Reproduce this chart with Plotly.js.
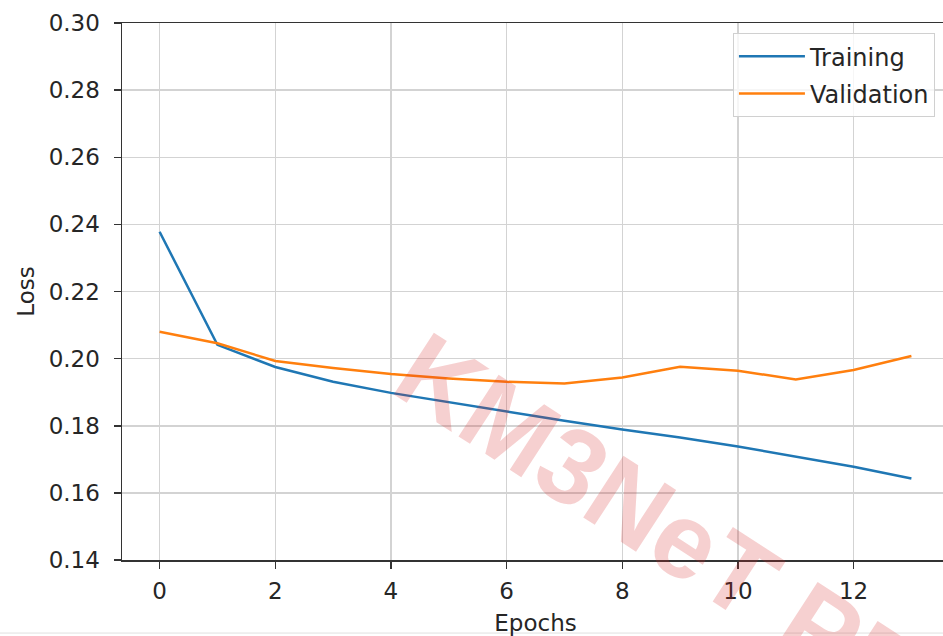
<!DOCTYPE html>
<html>
<head>
<meta charset="utf-8">
<script src="https://cdn.plot.ly/plotly-3.0.1.min.js"></script>
<style>
html,body{margin:0;padding:0;overflow:hidden;background:#fff;}
#chart{width:956px;height:636px;}
</style>
</head>
<body>
<div id="chart"></div>
<script>
const epochs = [0,1,2,3,4,5,6,7,8,9,10,11,12,13];
const trainingLoss = [0.2378,0.2041,0.1975,0.1931,0.1898,0.1870,0.1842,0.1815,0.1789,0.1765,0.1738,0.1708,0.1678,0.1643];
const validationLoss = [0.2080,0.2046,0.1993,0.1972,0.1954,0.1941,0.1931,0.1926,0.1944,0.1976,0.1964,0.1938,0.1966,0.2008];
const yTicks = [0.14,0.16,0.18,0.20,0.22,0.24,0.26,0.28,0.30];
const xTicks = [0,2,4,6,8,10,12];

const font = {family:'"DejaVu Sans", sans-serif', size:23, color:'#262626'};
const legendFont = {family:'"DejaVu Sans", sans-serif', size:24, color:'#262626'};

const traces = [
  {x:epochs, y:trainingLoss, name:'Training', mode:'lines', legendgroup:'a', line:{color:'#1f77b4', width:2.5}},
  {x:epochs, y:validationLoss, name:'Validation', mode:'lines', legendgroup:'b', line:{color:'#ff7f0e', width:2.5}}
];

const layout = {
  width:956, height:636,
  margin:{l:122, r:7, t:23, b:76},
  paper_bgcolor:'#ffffff', plot_bgcolor:'#ffffff',
  font:font,
  showlegend:true,
  legend:{x:0.983, y:0.981, xanchor:'right', yanchor:'top', bgcolor:'rgba(255,255,255,0.8)', bordercolor:'#d0d0d0', borderwidth:1, font:legendFont, tracegroupgap:3, itemwidth:66},
  xaxis:{
    range:[-0.65,13.65], tickvals:xTicks, ticktext:xTicks.map(String),
    showgrid:true, gridcolor:'#d3d3d3', gridwidth:1.5, zeroline:false,
    showline:true, linecolor:'#333', linewidth:1.5, mirror:true,
    ticks:'outside', ticklen:7, tickwidth:1.5, tickcolor:'#333', ticklabelstandoff:3,
    title:{text:'Epochs', font:font, standoff:14}
  },
  yaxis:{
    range:[0.14,0.30], tickvals:yTicks, ticktext:yTicks.map(v=>v.toFixed(2)),
    showgrid:true, gridcolor:'#d3d3d3', gridwidth:1.5, zeroline:false,
    showline:true, linecolor:'#333', linewidth:1.5, mirror:true,
    ticks:'outside', ticklen:7, tickwidth:1.5, tickcolor:'#333', ticklabelstandoff:9,
    title:{text:'Loss', font:font, standoff:7}
  },
  annotations:[{
    text:'KM3NeT PRELIMINARY', xref:'paper', yref:'paper', x:0.950, y:-0.230,
    xanchor:'center', yanchor:'middle', textangle:33, showarrow:false,
    font:{family:'"Liberation Sans", Arial, sans-serif', size:107, color:'rgba(214,40,40,0.22)', weight:'bold'}
  }],
  shapes:[{type:'line', xref:'paper', yref:'paper', x0:-0.2, x1:1.1, y0:-0.136, y1:-0.136, line:{color:'#e0e0e0', width:1}}]
};

Plotly.newPlot('chart', traces, layout, {displayModeBar:false, staticPlot:true});
</script>
</body>
</html>
